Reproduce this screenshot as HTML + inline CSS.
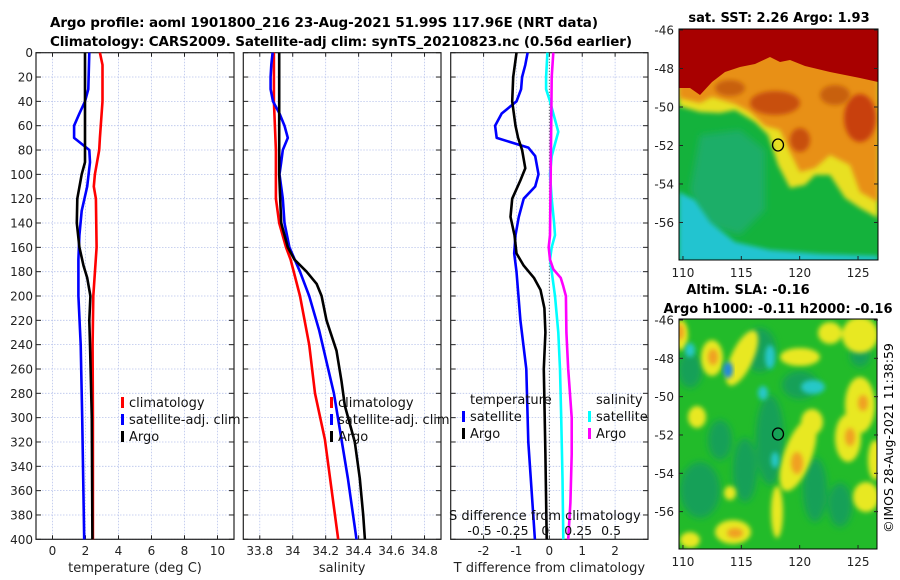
<!DOCTYPE html>
<html><head><meta charset="utf-8"><style>
body{margin:0;background:#fff;}
svg{display:block;font-family:"DejaVu Sans","Liberation Sans",sans-serif;}
</style></head><body>
<svg id="fig" width="900" height="580" viewBox="0 0 900 580" xmlns="http://www.w3.org/2000/svg">
<defs>
<filter id="bl" x="-20%" y="-20%" width="140%" height="140%"><feGaussianBlur stdDeviation="2.5"/></filter>
<filter id="bl2" x="-30%" y="-30%" width="160%" height="160%"><feGaussianBlur stdDeviation="3.5"/></filter>
<clipPath id="c1"><rect x="679" y="29" width="199" height="231"/></clipPath>
<clipPath id="c2"><rect x="679" y="319" width="198" height="230"/></clipPath>
</defs>
<text x="50" y="27" font-size="13.5" font-weight="bold" textLength="548">Argo profile: aoml 1901800_216 23-Aug-2021 51.99S 117.96E (NRT data)</text>
<text x="50" y="46" font-size="13.5" font-weight="bold" textLength="582">Climatology: CARS2009. Satellite-adj clim: synTS_20210823.nc (0.56d earlier)</text>

<!-- SST map -->
<g clip-path="url(#c1)">
<rect x="679" y="29" width="199" height="231" fill="#14b23c"/>
<polygon fill="#1aae68" filter="url(#bl2)" points="700,135 740,130 765,150 765,210 740,235 705,225 690,190"/>
<polygon fill="#22c4d0" filter="url(#bl)" points="679,192 695,200 710,222 735,242 770,250 820,254 878,256 878,262 679,262"/>
<polygon fill="#e8e020" filter="url(#bl)" points="679,29 878,29 878,218 860,208 845,198 830,175 815,175 805,185 790,188 778,165 768,135 755,122 735,110 720,113 700,112 679,106"/>
<polygon fill="#e89018" filter="url(#bl)" points="679,29 878,29 878,202 860,192 850,165 830,155 815,168 800,172 790,152 780,130 765,126 750,112 735,104 725,101 712,97 700,103 679,98"/>
<ellipse cx="860" cy="118" rx="16" ry="24" fill="#c84010" filter="url(#bl)"/>
<ellipse cx="800" cy="140" rx="10" ry="12" fill="#c85010" filter="url(#bl)"/>
<ellipse cx="775" cy="103" rx="25" ry="12" fill="#c85010" filter="url(#bl)"/>
<ellipse cx="730" cy="88" rx="15" ry="8" fill="#c86010" filter="url(#bl)"/>
<ellipse cx="835" cy="95" rx="15" ry="10" fill="#c86010" filter="url(#bl)"/>
<polygon fill="#a80000" points="679,29 878,29 878,82 860,78 830,72 805,66 790,60 780,62 770,57 755,64 740,67 725,72 712,82 700,95 690,88 679,88"/>
<ellipse cx="778" cy="145" rx="5.5" ry="6" fill="none" stroke="#000" stroke-width="1.3"/>
</g>
<rect x="679" y="29" width="199" height="231" fill="none" stroke="#000" stroke-width="1"/>
<text x="779" y="22" font-size="13" font-weight="bold" text-anchor="middle">sat. SST: 2.26 Argo: 1.93</text>

<!-- SLA map -->
<g clip-path="url(#c2)">
<rect x="679" y="319" width="198" height="230" fill="#22bb2a"/>
<g fill="#14a058" filter="url(#bl2)">
<ellipse cx="770" cy="440" rx="14" ry="45"/><ellipse cx="700" cy="490" rx="20" ry="28"/><ellipse cx="815" cy="490" rx="12" ry="32"/>
<ellipse cx="760" cy="350" rx="16" ry="22"/><ellipse cx="745" cy="470" rx="12" ry="32"/><ellipse cx="840" cy="505" rx="12" ry="22"/>
<ellipse cx="690" cy="370" rx="12" ry="18"/><ellipse cx="720" cy="440" rx="12" ry="20"/><ellipse cx="800" cy="385" rx="18" ry="14"/>
<ellipse cx="860" cy="355" rx="10" ry="12"/>
</g>
<g fill="#e8e820" filter="url(#bl)">
<ellipse cx="742" cy="358" rx="11" ry="30" transform="rotate(25 742 358)"/><ellipse cx="712" cy="358" rx="11" ry="18"/>
<ellipse cx="800" cy="357" rx="20" ry="9"/><ellipse cx="860" cy="335" rx="18" ry="18"/><ellipse cx="830" cy="333" rx="12" ry="11"/>
<ellipse cx="860" cy="405" rx="15" ry="28"/><ellipse cx="848" cy="438" rx="13" ry="24"/><ellipse cx="798" cy="455" rx="14" ry="38" transform="rotate(20 798 455)"/>
<ellipse cx="812" cy="422" rx="11" ry="13"/><ellipse cx="697" cy="417" rx="9" ry="11"/><ellipse cx="681" cy="335" rx="7" ry="15"/>
<ellipse cx="866" cy="497" rx="13" ry="15"/><ellipse cx="733" cy="532" rx="18" ry="12"/><ellipse cx="730" cy="493" rx="6" ry="7"/>
<ellipse cx="777" cy="512" rx="6" ry="26"/><ellipse cx="875" cy="460" rx="7" ry="20"/><ellipse cx="690" cy="540" rx="10" ry="8"/>
</g>
<g fill="#f0a020" filter="url(#bl)">
<ellipse cx="713" cy="357" rx="5" ry="8"/><ellipse cx="863" cy="403" rx="5" ry="8"/><ellipse cx="850" cy="437" rx="5" ry="9"/>
<ellipse cx="797" cy="463" rx="6" ry="11"/><ellipse cx="735" cy="533" rx="8" ry="5"/><ellipse cx="680" cy="332" rx="4" ry="8"/>
</g>
<g fill="#28c8c8" filter="url(#bl)">
<ellipse cx="770" cy="357" rx="5" ry="12"/><ellipse cx="763" cy="393" rx="5" ry="7"/><ellipse cx="813" cy="387" rx="12" ry="7"/>
<ellipse cx="690" cy="350" rx="5" ry="7"/><ellipse cx="775" cy="460" rx="4" ry="8"/>
</g>
<ellipse cx="728" cy="370" rx="5" ry="8" fill="#2088d8" filter="url(#bl)"/>
<ellipse cx="778" cy="434" rx="5.5" ry="6" fill="none" stroke="#000" stroke-width="1.3"/>
</g>
<rect x="679" y="319" width="198" height="230" fill="none" stroke="#000" stroke-width="1"/>
<text x="748" y="294" font-size="13" font-weight="bold" text-anchor="middle">Altim. SLA: -0.16</text>
<text x="778" y="313" font-size="13" font-weight="bold" text-anchor="middle">Argo h1000: -0.11 h2000: -0.16</text>
<text transform="translate(893,438) rotate(-90)" font-size="12.5" text-anchor="middle">©IMOS 28-Aug-2021 11:38:59</text>
<g id="axes"></g>
</svg>
<script>
// ---- data ----
const tempClimDepth=[0,10,40,70,80,100,110,120,160,200,240,300,400];
const tempClim=[2.87,3.03,3.03,2.87,2.83,2.57,2.5,2.63,2.67,2.47,2.43,2.45,2.45];
const tempSatDepth=[0,30,40,50,60,70,80,90,110,130,150,170,200,240,300,400];
const tempSat=[2.23,2.17,1.97,1.63,1.31,1.31,2.23,2.27,2.1,1.77,1.63,1.57,1.57,1.71,1.8,1.92];
const tempArgoDepth=[0,90,100,120,140,160,175,185,200,220,240,300,400];
const tempArgo=[1.97,1.97,1.77,1.5,1.47,1.63,1.88,2.1,2.3,2.23,2.27,2.38,2.42];
const salClimDepth=[0,40,80,120,140,160,170,200,240,280,318,400];
const salClim=[33.886,33.886,33.898,33.898,33.918,33.959,33.987,34.044,34.1,34.135,34.195,34.276];
const salSatDepth=[0,10,20,30,40,50,60,70,80,90,100,120,140,160,180,200,228,280,318,350,400];
const salSat=[33.878,33.87,33.866,33.866,33.88,33.92,33.95,33.97,33.94,33.93,33.92,33.94,33.95,33.98,34.044,34.1,34.16,34.25,34.296,34.335,34.387];
const salArgoDepth=[0,100,140,150,160,170,180,190,200,220,245,270,290,320,350,380,400];
const salArgo=[33.918,33.918,33.93,33.95,33.97,34.01,34.084,34.145,34.175,34.205,34.266,34.296,34.316,34.377,34.407,34.428,34.438];
const tDiffArgoDepth=[0,20,40,60,70,80,95,105,120,135,150,165,175,185,195,210,230,260,330,400];
const tDiffArgo=[-1.0,-1.1,-1.13,-1.03,-0.95,-0.83,-0.73,-0.88,-1.13,-1.18,-1.06,-1.0,-0.78,-0.47,-0.27,-0.15,-0.12,-0.17,-0.12,-0.08];
const tDiffSatDepth=[0,10,20,30,40,50,60,70,78,85,100,110,120,135,150,165,180,220,260,320,400];
const tDiffSat=[-0.66,-0.73,-0.83,-0.86,-1.0,-1.45,-1.65,-1.6,-0.64,-0.43,-0.33,-0.43,-0.78,-0.93,-1.03,-1.07,-1.0,-0.88,-0.7,-0.64,-0.44];
const sDiffSatDepth=[0,20,30,40,50,65,75,85,100,120,140,150,160,170,180,200,230,260,300,350,400];
const sDiffSat=[-0.015,-0.025,-0.025,0.005,0.03,0.068,0.043,0.018,0.005,0.018,0.036,0.043,0.018,0.005,0.018,0.043,0.068,0.081,0.09,0.1,0.106];
const sDiffArgoDepth=[0,20,100,150,160,170,178,185,192,200,230,260,300,330,370,400];
const sDiffArgo=[0.03,0.018,0.01,0.005,-0.005,0.005,0.03,0.086,0.106,0.126,0.13,0.143,0.17,0.17,0.16,0.143];
const depthTicks=[0,20,40,60,80,100,120,140,160,180,200,220,240,260,280,300,320,340,360,380,400];
const tempTicks=[0,2,4,6,8,10];
const salTicks=[33.8,34,34.2,34.4,34.6,34.8];
const tDiffTicks=[-2,-1,0,1,2];
const sDiffTickLabels=["-0.5","-0.25","0","0.25","0.5"];
const sDiffTickVals=[-0.5,-0.25,0,0.25,0.5];
const mapLatTicks=[-46,-48,-50,-52,-54,-56];
const mapLonTicks=[110,115,120,125];

const NS='http://www.w3.org/2000/svg';
const root=document.getElementById('axes');
function mk(tag,attrs,parent){const e=document.createElementNS(NS,tag);for(const k in attrs)e.setAttribute(k,attrs[k]);(parent||root).appendChild(e);return e;}
const Y0=52.7,Y1=539.3;
const yS=d=>Y0+(d/400)*(Y1-Y0);
function panel(name,x0,x1,dmin,dmax){return {name,x0,x1,sx:v=>x0+(v-dmin)/(dmax-dmin)*(x1-x0)};}
const P1=panel('temperature',36,234,-1,11);
const P2=panel('salinity',243.3,441,33.7,34.9);
const P3=panel('difference',450.7,648,-3,3);
const sS=v=>P3.sx(v*4);

function drawFrame(p,xt,lab){
  const g=mk('g',{});
  
  
  depthTicks.forEach(d=>{
    const l=mk('line',{x1:p.x0,x2:p.x1,y1:yS(d),y2:yS(d),stroke:'#b8c4ec','stroke-width':0.8,'stroke-dasharray':'1.5,1.5'},g);
    
    
    mk('line',{x1:p.x0,x2:p.x0+5,y1:yS(d),y2:yS(d),stroke:'#222','stroke-width':1},g);
    mk('line',{x1:p.x1-5,x2:p.x1,y1:yS(d),y2:yS(d),stroke:'#222','stroke-width':1},g);
  });
  xt.forEach(v=>{
    const x=p.sx(v);
    const l=mk('line',{x1:x,x2:x,y1:Y0,y2:Y1,stroke:'#b8c4ec','stroke-width':0.8,'stroke-dasharray':'1.5,1.5'},g);
    
    
    mk('line',{x1:x,x2:x,y1:Y1-4,y2:Y1,stroke:'#222','stroke-width':1},g);
    mk('line',{x1:x,x2:x,y1:Y0,y2:Y0+4,stroke:'#222','stroke-width':1},g);
    const t=mk('text',{x:x,y:555,'font-size':12,'text-anchor':'middle',fill:'#222'},g);
    t.textContent=String(v);
    
    
  });
  mk('rect',{x:p.x0,y:Y0,width:p.x1-p.x0,height:Y1-Y0,fill:'none',stroke:'#222','stroke-width':1.2},g);
  const t=mk('text',{x:(p.x0+p.x1)/2,y:572,'font-size':13,'text-anchor':'middle',fill:'#222'},g);
  t.textContent=lab;
  
  
}
drawFrame(P1,tempTicks,'temperature (deg C)');
drawFrame(P2,salTicks,'salinity');
drawFrame(P3,tDiffTicks,'T difference from climatology');
depthTicks.forEach(d=>{
  const t=mk('text',{x:33,y:yS(d)+4.5,'font-size':12,'text-anchor':'end',fill:'#222'});
  t.textContent=String(d);
  
  
});
const zl=mk('line',{x1:P3.sx(0),x2:P3.sx(0),y1:Y0,y2:Y1,stroke:'#444','stroke-width':1,'stroke-dasharray':'1,2'});



function series(name,depths,vals,sx,color){
  const pts=depths.map((d,i)=>sx(vals[i]).toFixed(1)+','+yS(d).toFixed(1)).join(' ');
  const e=mk('polyline',{points:pts,fill:'none',stroke:color,'stroke-width':2.6,'stroke-linejoin':'round'});
  
  
}
series('temp-climatology-line',tempClimDepth,tempClim,P1.sx,'#ff0000');
series('temp-satellite-line',tempSatDepth,tempSat,P1.sx,'#0000ff');
series('temp-argo-line',tempArgoDepth,tempArgo,P1.sx,'#000000');
series('sal-climatology-line',salClimDepth,salClim,P2.sx,'#ff0000');
series('sal-satellite-line',salSatDepth,salSat,P2.sx,'#0000ff');
series('sal-argo-line',salArgoDepth,salArgo,P2.sx,'#000000');
series('sdiff-satellite-line',sDiffSatDepth,sDiffSat,sS,'#00ffff');
series('sdiff-argo-line',sDiffArgoDepth,sDiffArgo,sS,'#ff00ff');
series('tdiff-satellite-line',tDiffSatDepth,tDiffSat,P3.sx,'#0000ff');
series('tdiff-argo-line',tDiffArgoDepth,tDiffArgo,P3.sx,'#000000');

function legendEntry(x,y,color,label){
  const g=mk('g',{});
  
  
  if(color) mk('rect',{x:x-8,y:y-10,width:3,height:11,fill:color},g);
  const t=mk('text',{x:x,y:y,'font-size':13,fill:'#111'},g);
  t.textContent=label;
}
[['#ff0000','climatology'],['#0000ff','satellite-adj. clim'],['#000000','Argo']].forEach((e,i)=>{
  legendEntry(129,407+i*17,e[0],e[1]);
  legendEntry(338,407+i*17,e[0],e[1]);
});
legendEntry(470,404,null,'temperature');
legendEntry(470,421,'#0000ff','satellite');
legendEntry(470,438,'#000000','Argo');
legendEntry(596,404,null,'salinity');
legendEntry(596,421,'#00ffff','satellite');
legendEntry(596,438,'#ff00ff','Argo');
const st=mk('text',{x:449,y:520,'font-size':13,fill:'#111'});
st.textContent='S difference from climatology';


sDiffTickVals.forEach((v,i)=>{
  const t=mk('text',{x:sS(v)-4,y:535,'font-size':12.5,'text-anchor':'middle',fill:'#111'});
  t.textContent=sDiffTickLabels[i];
  
  
});
function mapAxes(yTop,yBot,latBot){
  const ly=lat=>yTop+1+(-46-lat)/(-46-latBot)*(yBot-yTop-1);
  const lx=lon=>679+(lon-109.66)*11.67;
  mapLatTicks.forEach(l=>{
    const y=ly(l);
    mk('line',{x1:679,x2:683,y1:y,y2:y,stroke:'#222'});
    mk('line',{x1:874,x2:878,y1:y,y2:y,stroke:'#222'});
    const t=mk('text',{x:674,y:y+4.5,'font-size':12,'text-anchor':'end',fill:'#222'});
    t.textContent=String(l);
    
    
  });
  mapLonTicks.forEach(l=>{
    const x=lx(l);
    mk('line',{x1:x,x2:x,y1:yBot-4,y2:yBot,stroke:'#222'});
    const t=mk('text',{x:x,y:yBot+17,'font-size':12,'text-anchor':'middle',fill:'#222'});
    t.textContent=String(l);
    
    
  });
}
mapAxes(29,260,-57.95);
mapAxes(319,549,-57.95);
</script>
</body></html>
